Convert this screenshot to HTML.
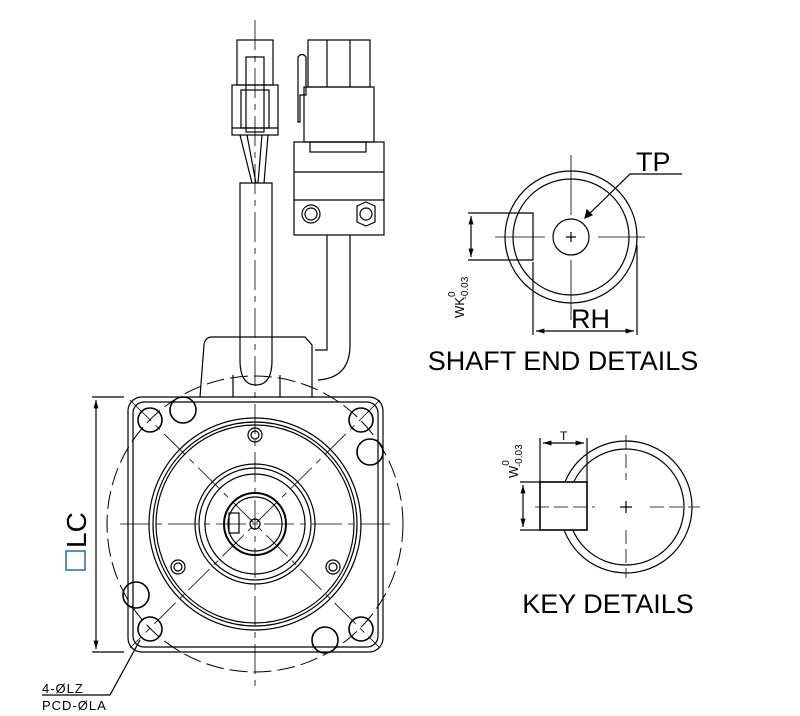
<!DOCTYPE html>
<html><head><style>body{margin:0;background:#fff}svg{display:block}</style></head><body>
<svg width="800" height="716" viewBox="0 0 800 716" xmlns="http://www.w3.org/2000/svg" font-family="Liberation Sans, sans-serif">
<defs><marker id="a" viewBox="0 0 10 10" refX="10" refY="5" markerWidth="7" markerHeight="7" orient="auto-start-reverse"><path d="M0,2 L10,5 L0,8z" fill="#000"/></marker></defs>
<g fill="none" stroke="#000" stroke-width="1.2">
<rect x="237" y="40" width="36" height="45"/>
<rect x="246" y="57" width="18" height="75"/>
<rect x="232" y="85" width="46" height="50"/>
<rect x="241" y="90" width="28" height="38"/>
<line x1="232" y1="128" x2="278" y2="128"/>
<path d="M240,135 L252,183 M247,135 L256,183 M262,135 L258,183 M268,135 L264,183"/>
<rect x="308" y="40" width="62" height="47"/>
<line x1="327" y1="40" x2="327" y2="87"/><line x1="350" y1="40" x2="350" y2="87"/>
<path d="M298,122 L298,57 Q302,52 306,57 L306,95 L300,95 L300,122 Z"/>
<rect x="304" y="87" width="70" height="55"/>
<rect x="310" y="142" width="56" height="10"/>
<rect x="294" y="142" width="90" height="93"/>
<line x1="294" y1="172" x2="384" y2="172"/><line x1="294" y1="200" x2="384" y2="200"/>
<circle cx="311" cy="214" r="9"/><circle cx="311" cy="214" r="6"/>
<polygon points="357,206 366,202 375,206 375,222 366,226 357,222"/><circle cx="366" cy="214" r="6"/>
<path d="M240,183 L240,360 Q240,385 256,385 Q272,385 272,360 L272,183 Z"/>
<path d="M327,235 L327,350 L315,350 M350,235 L350,345 Q350,378 318,380"/>
<path d="M200,397 L204,345 Q205,337 212,337 L305,337 L312,345 L312,397"/>
<path d="M233,397 L233,375 M280,397 L280,375"/>
<rect x="128" y="397" width="255" height="255" rx="14"/>
<rect x="133" y="402" width="245" height="245" rx="11"/>
<circle cx="255" cy="524" r="106"/><circle cx="255" cy="524" r="102"/><circle cx="255" cy="524" r="99"/>
<circle cx="255" cy="524" r="60"/><circle cx="255" cy="524" r="56"/><circle cx="255" cy="524" r="50"/>
<circle cx="255" cy="524" r="31" stroke-width="2"/><circle cx="255" cy="524" r="27"/>
<rect x="229" y="513" width="10" height="20"/>
<circle cx="255" cy="524" r="5"/>
<g stroke-width="1.6">
<circle cx="150" cy="420" r="12"/><circle cx="361" cy="420" r="12"/><circle cx="150" cy="629" r="12"/><circle cx="361" cy="629" r="12"/>
<circle cx="183" cy="410" r="13"/><circle cx="370" cy="452" r="13"/><circle cx="136" cy="595" r="13"/><circle cx="325" cy="640" r="13"/>
</g>
<circle cx="255" cy="435" r="7"/><circle cx="255" cy="435" r="4"/>
<circle cx="178" cy="567" r="7"/><circle cx="178" cy="567" r="4"/>
<circle cx="333" cy="567" r="7"/><circle cx="333" cy="567" r="4"/>
<circle cx="255" cy="524" r="148" stroke-dasharray="18,6" stroke-width="1"/>
<path d="M255,20 L255,690 M120,524 L390,524 M130,400 L380,648 M380,400 L130,648" stroke-dasharray="30,6,6,6" stroke-width="0.8"/>
<path d="M92,397 L124,397 M92,652 L124,652"/>
<line x1="96" y1="400" x2="96" y2="649" marker-start="url(#a)" marker-end="url(#a)"/>
<path d="M140,640 L110,695 L42,695"/>
<circle cx="571" cy="237" r="66"/><circle cx="571" cy="237" r="58"/>
<circle cx="571" cy="237" r="18"/>
<path d="M505,213 L533,213 L533,260 L505,260"/>
<path d="M468,213 L505,213 M468,260 L505,260"/>
<line x1="471" y1="216" x2="471" y2="257" marker-start="url(#a)" marker-end="url(#a)"/>
<path d="M533,262 L533,335 M637,245 L637,335"/>
<line x1="536" y1="331" x2="634" y2="331" marker-start="url(#a)" marker-end="url(#a)"/>
<path d="M571,155 L571,215 M571,260 L571,320 M495,237 L545,237 M598,237 L645,237" stroke-width="0.8"/>
<path d="M566,237h10M571,232v10"/>
<path d="M682,174 L630,174 L585,218"/>
<path d="M585,218 l2,-8 l5,5z" fill="#000"/>
<circle cx="626" cy="507" r="66"/><circle cx="626" cy="507" r="58"/>
<rect x="540" y="482" width="47" height="48" stroke-width="1.6" fill="#fff"/>
<path d="M540,482 L540,438 M587,482 L587,438"/>
<line x1="543" y1="443" x2="584" y2="443" marker-start="url(#a)" marker-end="url(#a)"/>
<path d="M520,482 L540,482 M520,530 L540,530"/>
<line x1="523" y1="485" x2="523" y2="527" marker-start="url(#a)" marker-end="url(#a)"/>
<path d="M626,435 L626,480 M626,530 L626,578 M535,507 L595,507 M650,507 L700,507" stroke-dasharray="14,5" stroke-width="0.8"/>
<path d="M620,507h12M626,501v12"/>
</g>
<g font-size="27">
<text x="563" y="370" text-anchor="middle">SHAFT END DETAILS</text>
<text x="608" y="613" text-anchor="middle">KEY DETAILS</text>
<text x="636" y="171">TP</text>
<text x="571" y="328">RH</text>
</g>
<text x="560" y="440" font-size="12">T</text>
<g font-size="13">
<text transform="translate(464,318) rotate(-90)">WK<tspan dy="-9" font-size="10">0</tspan><tspan dx="-8" dy="13" font-size="10">-0.03</tspan></text>
<text transform="translate(518,478) rotate(-90)">W<tspan dy="-9" font-size="10">0</tspan><tspan dx="-7" dy="13" font-size="10">-0.03</tspan></text>
</g>
<text transform="translate(86,548) rotate(-90)" font-size="28">LC</text>
<rect x="66" y="551" width="19" height="19" fill="none" stroke="#1a6fb0" stroke-width="1.5"/>
<text x="42" y="693" font-size="13" letter-spacing="1">4-ØLZ</text>
<text x="42" y="710" font-size="13" letter-spacing="1">PCD-ØLA</text>
</svg>
</body></html>
